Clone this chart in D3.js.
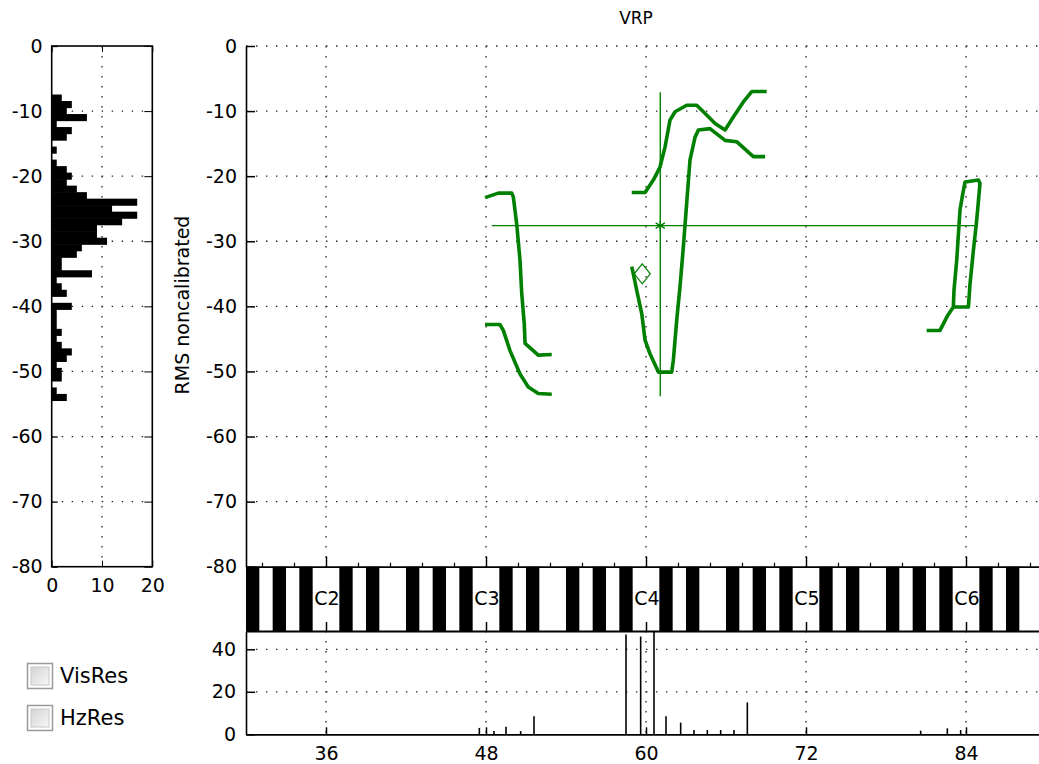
<!DOCTYPE html>
<html><head><meta charset="utf-8">
<script src="https://cdn.jsdelivr.net/npm/d3@7"></script>
<style>
html,body{margin:0;padding:0;background:#fff;}
svg{display:block;}
text{font-family:"DejaVu Sans",sans-serif;fill:#000;}
</style></head>
<body>
<svg id="chart" width="1039" height="764"></svg>
<script>
// ---------- DATA ----------
const title = "VRP";
const yLabel = "RMS noncalibrated";
const dbTicks = [0, -10, -20, -30, -40, -50, -60, -70, -80];
const pitchTicks = [36, 48, 60, 72, 84];
const noteLabels = ["C2", "C3", "C4", "C5", "C6"];
const histTicks = [0, 10, 20];
const countTicks = [0, 20, 40];

// histogram of levels (bins centred on integer dB)
const histDb = [-8,-9,-10,-11,-12,-13,-14,-15,-16,-17,-18,-19,-20,-21,-22,-23,-24,-25,-26,-27,-28,-29,-30,-31,-32,-33,-34,-35,-36,-37,-38,-39,-40,-41,-42,-43,-44,-45,-46,-47,-48,-49,-50,-51,-52,-53,-54];
const histCount = [2,4,3,7,1,4,3,0,1,0,1,3,4,3,5,7,17,12,17,14,9,9,11,6,5,2,2,8,1,2,3,0,4,1,1,1,2,1,2,4,3,1,2,2,0,1,3];

// pitch histogram (bottom panel)
const barPitch = [47.5, 48.6, 49.5, 50.6, 51.6, 58.5, 59.6, 60.6, 61.5, 62.6, 63.6, 64.6, 65.6, 66.6, 67.6, 80.6, 82.6, 83.6];
const barCount = [3, 1.5, 3.5, 1.5, 8.5, 47, 46, 60, 8.5, 5.5, 2, 2, 2, 2, 15, 1.7, 2.8, 2];

// VRP contours: [pitch (MIDI), level]
const contourA = [[47.93,-23.3],[48.92,-22.6],[49.93,-22.6],[50.05,-23.2],[50.3,-27.3],[50.55,-32.9],[50.68,-38.0],[50.87,-42.7],[50.93,-45.7],[51.92,-47.5],[52.93,-47.4]];
const contourB = [[47.93,-42.8],[49.05,-42.8],[49.3,-43.7],[49.8,-46.8],[50.55,-50.4],[51.17,-52.4],[51.92,-53.4],[52.93,-53.5]];
const contourC = [[58.93,-22.5],[59.93,-22.5],[60.55,-20.6],[61.05,-18.6],[61.43,-15.5],[61.8,-11.4],[62.18,-10.1],[63.05,-9.1],[63.8,-9.1],[64.55,-10.6],[65.18,-11.9],[65.93,-12.9],[66.55,-10.9],[67.3,-8.6],[67.93,-7.0],[69.05,-7.0]];
const contourD = [[58.93,-33.9],[59.05,-35.0],[59.3,-37.5],[59.68,-41.1],[59.93,-45.2],[60.3,-47.3],[60.93,-50.1],[61.93,-50.1],[62.05,-48.3],[62.3,-42.2],[62.55,-37.0],[62.8,-30.9],[63.05,-24.2],[63.3,-17.5],[63.68,-14.0],[63.93,-12.9],[64.8,-12.7],[65.93,-14.5],[66.8,-14.7],[68.05,-17.0],[68.93,-17.0]];
const contourE = [[81.05,-43.7],[82.05,-43.7],[82.6,-41.5],[83.05,-40.1],[84.18,-40.1],[84.3,-36.6],[84.55,-31.5],[84.8,-26.8],[85.05,-21.1],[84.93,-20.6],[83.93,-20.9],[83.75,-22.8],[83.55,-25.2],[83.3,-33.0],[83.1,-37.5],[83.05,-40.1]];
const contours = [contourA, contourB, contourC, contourD, contourE];

// centroid cross and marker
const meanPitch = 61.07, meanDb = -27.6;
const pitchRange = [48.43, 84.9];
const dbRange = [-53.8, -7.1];
const diamond = [59.72, -35.0];

const checkboxes = ["VisRes", "HzRes"];

// ---------- DRAW ----------
const svg = d3.select("#chart");
const green = "#008000";
const dotted = "1.4,8.6";
const fmt = (d) => String(d);

const x = d3.scaleLinear().domain([30, 90]).range([246, 1046]);
const y = d3.scaleLinear().domain([-80, 0]).range([566.7, 46]);
const xh = d3.scaleLinear().domain([0, 20]).range([51.7, 152.3]);
const yb = d3.scaleLinear().domain([0, 48.6]).range([734.3, 631]);

// ---- histogram panel ----
const gh = svg.append("g");
gh.selectAll("line.hgy").data(dbTicks.slice(1, -1)).join("line")
  .attr("x1", xh(0)).attr("x2", xh(20)).attr("y1", (d) => y(d)).attr("y2", (d) => y(d))
  .attr("stroke", "#222").attr("stroke-width", 1.3).attr("stroke-dasharray", dotted);
gh.selectAll("line.hgx").data([10]).join("line")
  .attr("x1", (d) => xh(d)).attr("x2", (d) => xh(d)).attr("y1", y(0)).attr("y2", y(-80))
  .attr("stroke", "#222").attr("stroke-width", 1.3).attr("stroke-dasharray", dotted);
gh.selectAll("rect.hb").data(histDb.filter((d, i) => histCount[i] > 0)).join("rect")
  .attr("x", xh(0))
  .attr("y", (d) => y(d + 0.5) - 0.3)
  .attr("width", (d) => xh(histCount[histDb.indexOf(d)]) - xh(0))
  .attr("height", (d) => y(d - 0.5) - y(d + 0.5) + 0.6)
  .attr("fill", "#000");
gh.append("rect").attr("x", xh(0)).attr("y", y(0)).attr("width", xh(20) - xh(0)).attr("height", y(-80) - y(0))
  .attr("fill", "none").attr("stroke", "#000").attr("stroke-width", 1.6);
gh.append("g").attr("transform", `translate(${xh(0)},0)`)
  .call(d3.axisLeft(y).tickValues(dbTicks).tickFormat(fmt).tickSizeInner(-6).tickSizeOuter(0).tickPadding(9))
  .call((g) => g.select(".domain").remove())
  .call((g) => g.selectAll("line").attr("stroke-width", 1.3))
  .call((g) => g.selectAll("text").attr("font-size", 19).attr("font-family", "DejaVu Sans"));
gh.append("g").attr("transform", `translate(${xh(20)},0)`)
  .call(d3.axisRight(y).tickValues(dbTicks).tickSizeInner(-8).tickSizeOuter(0).tickFormat(""))
  .call((g) => g.select(".domain").remove());
gh.append("g").attr("transform", `translate(0,${y(-80)})`)
  .call(d3.axisBottom(xh).tickValues(histTicks).tickFormat(fmt).tickSizeInner(-6).tickSizeOuter(0).tickPadding(12))
  .call((g) => g.select(".domain").remove())
  .call((g) => g.selectAll("text").attr("font-size", 19).attr("font-family", "DejaVu Sans"));
gh.append("g").attr("transform", `translate(0,${y(0)})`)
  .call(d3.axisTop(xh).tickValues(histTicks).tickSizeInner(-6).tickSizeOuter(0).tickFormat(""))
  .call((g) => g.select(".domain").remove());

// ---- main VRP panel ----
const gm = svg.append("g");
gm.selectAll("line.gy").data(dbTicks.slice(0, -1)).join("line")
  .attr("x1", x(30)).attr("x2", x(90)).attr("y1", (d) => y(d)).attr("y2", (d) => y(d))
  .attr("stroke", "#222").attr("stroke-width", 1.3).attr("stroke-dasharray", dotted);
gm.selectAll("line.gx").data(pitchTicks).join("line")
  .attr("x1", (d) => x(d)).attr("x2", (d) => x(d)).attr("y1", y(0)).attr("y2", y(-80))
  .attr("stroke", "#222").attr("stroke-width", 1.3).attr("stroke-dasharray", dotted);

gm.append("g").attr("transform", `translate(${x(30)},0)`)
  .call(d3.axisLeft(y).tickValues(dbTicks).tickFormat(fmt).tickSizeInner(-9).tickSizeOuter(0).tickPadding(9))
  .call((g) => g.select(".domain").attr("stroke-width", 1.6))
  .call((g) => g.selectAll("line").attr("stroke-width", 1.5))
  .call((g) => g.selectAll("text").attr("font-size", 19).attr("font-family", "DejaVu Sans"));

// crosshair
gm.append("line").attr("x1", x(pitchRange[0])).attr("x2", x(pitchRange[1]))
  .attr("y1", y(meanDb)).attr("y2", y(meanDb)).attr("stroke", green).attr("stroke-width", 1.4);
gm.append("line").attr("x1", x(meanPitch)).attr("x2", x(meanPitch))
  .attr("y1", y(dbRange[1])).attr("y2", y(dbRange[0])).attr("stroke", green).attr("stroke-width", 1.4);
gm.append("path").attr("d", d3.symbol(d3.symbolAsterisk, 80)())
  .attr("transform", `translate(${x(meanPitch)},${y(meanDb)})`)
  .attr("fill", "none").attr("stroke", green).attr("stroke-width", 1.4);

// contours
const line = d3.line().x((d) => x(d[0])).y((d) => y(d[1]));
gm.selectAll("path.ct").data(contours).join("path")
  .attr("d", line).attr("fill", "none").attr("stroke", green)
  .attr("stroke-width", 3.6).attr("stroke-linejoin", "round");

// diamond marker (hollow)
const dx = x(diamond[0]), dy = y(diamond[1]);
gm.append("path")
  .attr("d", `M${dx},${dy - 10}L${dx + 8},${dy}L${dx},${dy + 10}L${dx - 8},${dy}Z`)
  .attr("fill", "none").attr("stroke", green).attr("stroke-width", 1.2);

// title & y label
svg.append("text").attr("x", 636).attr("y", 18).attr("text-anchor", "middle")
  .attr("dominant-baseline", "central").attr("font-size", 17).text(title);
svg.append("text").attr("transform", "translate(182,305) rotate(-90)").attr("text-anchor", "middle")
  .attr("dominant-baseline", "central").attr("font-size", 19).text(yLabel);

// ---- keyboard ----
const gk = svg.append("g");
const keys = d3.range(30, 90);
const blackPc = [1, 3, 6, 8, 10];
gk.selectAll("rect.key").data(keys.filter((n) => blackPc.includes(n % 12))).join("rect")
  .attr("x", (n) => x(n)).attr("y", y(-80)).attr("width", (n) => x(n + 1) - x(n))
  .attr("height", yb(48.6) - y(-80)).attr("fill", "#000");
gk.selectAll("text.note").data(pitchTicks).join("text")
  .attr("x", (d) => x(d) + 1).attr("y", 598).attr("text-anchor", "middle")
  .attr("dominant-baseline", "central").attr("font-size", 19)
  .text((d, i) => noteLabels[i]);

// main x axis (top of keyboard)
const minorTicks = d3.range(31.2, 90, 2.4).filter((v) => !pitchTicks.some((p) => Math.abs(p - v) < 0.01));
gk.append("g").attr("transform", `translate(0,${y(-80)})`)
  .call(d3.axisTop(x).tickValues(pitchTicks).tickSizeInner(10).tickSizeOuter(0).tickFormat(""))
  .call((g) => g.select(".domain").attr("stroke-width", 1.8))
  .call((g) => g.selectAll("line").attr("stroke-width", 1.5));
gk.append("g").attr("transform", `translate(0,${y(-80)})`)
  .call(d3.axisTop(x).tickValues(minorTicks).tickSizeInner(4).tickSizeOuter(0).tickFormat(""))
  .call((g) => g.select(".domain").remove())
  .call((g) => g.selectAll("line").attr("stroke-width", 1.2));

// ---- bottom pitch histogram ----
const gb = svg.append("g");
gb.selectAll("line.bgy").data([20, 40]).join("line")
  .attr("x1", x(30)).attr("x2", x(90)).attr("y1", (d) => yb(d)).attr("y2", (d) => yb(d))
  .attr("stroke", "#222").attr("stroke-width", 1.3).attr("stroke-dasharray", dotted);
gb.selectAll("line.bgx").data(pitchTicks).join("line")
  .attr("x1", (d) => x(d)).attr("x2", (d) => x(d)).attr("y1", yb(48.6)).attr("y2", yb(0))
  .attr("stroke", "#222").attr("stroke-width", 1.3).attr("stroke-dasharray", dotted);
gb.selectAll("line.bar").data(barPitch).join("line")
  .attr("x1", (d) => x(d)).attr("x2", (d) => x(d))
  .attr("y1", yb(0)).attr("y2", (d, i) => yb(Math.min(barCount[i], 48.6)))
  .attr("stroke", "#000").attr("stroke-width", 1.6);
gb.append("g").attr("transform", `translate(0,${yb(48.6)})`)
  .call(d3.axisBottom(x).tickValues(pitchTicks).tickSizeInner(-9).tickSizeOuter(0).tickFormat(""))
  .call((g) => g.select(".domain").attr("stroke-width", 1.8))
  .call((g) => g.selectAll("line").attr("stroke-width", 1.5));
gb.append("g").attr("transform", `translate(0,${yb(0)})`)
  .call(d3.axisBottom(x).tickValues(pitchTicks).tickFormat(fmt).tickSizeInner(-7).tickSizeOuter(0).tickPadding(12))
  .call((g) => g.select(".domain").attr("stroke-width", 1.8))
  .call((g) => g.selectAll("line").attr("stroke-width", 1.5))
  .call((g) => g.selectAll("text").attr("font-size", 19).attr("font-family", "DejaVu Sans"));
gb.append("g").attr("transform", `translate(${x(30)},0)`)
  .call(d3.axisLeft(yb).tickValues(countTicks).tickFormat(fmt).tickSizeInner(-9).tickSizeOuter(0).tickPadding(10))
  .call((g) => g.select(".domain").attr("stroke-width", 1.6))
  .call((g) => g.selectAll("line").attr("stroke-width", 1.5))
  .call((g) => g.selectAll("text").attr("font-size", 19).attr("font-family", "DejaVu Sans"));

// ---- checkboxes ----
const defs = svg.append("defs");
const grad = defs.append("linearGradient").attr("id", "cbg").attr("x1", 0).attr("y1", 0).attr("x2", 1).attr("y2", 1);
grad.append("stop").attr("offset", "0%").attr("stop-color", "#d4d4d4");
grad.append("stop").attr("offset", "100%").attr("stop-color", "#f7f7f7");
const gc = svg.append("g");
const cb = gc.selectAll("g.cb").data(checkboxes).join("g")
  .attr("transform", (d, i) => `translate(27,${663 + i * 42})`);
cb.append("rect").attr("x", 0.5).attr("y", 0.5).attr("width", 25).attr("height", 25)
  .attr("fill", "#fff").attr("stroke", "#9a9a9a").attr("stroke-width", 1.5);
cb.append("rect").attr("x", 4).attr("y", 4).attr("width", 18).attr("height", 18)
  .attr("fill", "url(#cbg)").attr("stroke", "#c8c8c8").attr("stroke-width", 1);
cb.append("text").attr("x", 33).attr("y", 13).attr("dominant-baseline", "central")
  .attr("font-size", 21).attr("fill", "#222").text((d) => d);
</script>
</body></html>
